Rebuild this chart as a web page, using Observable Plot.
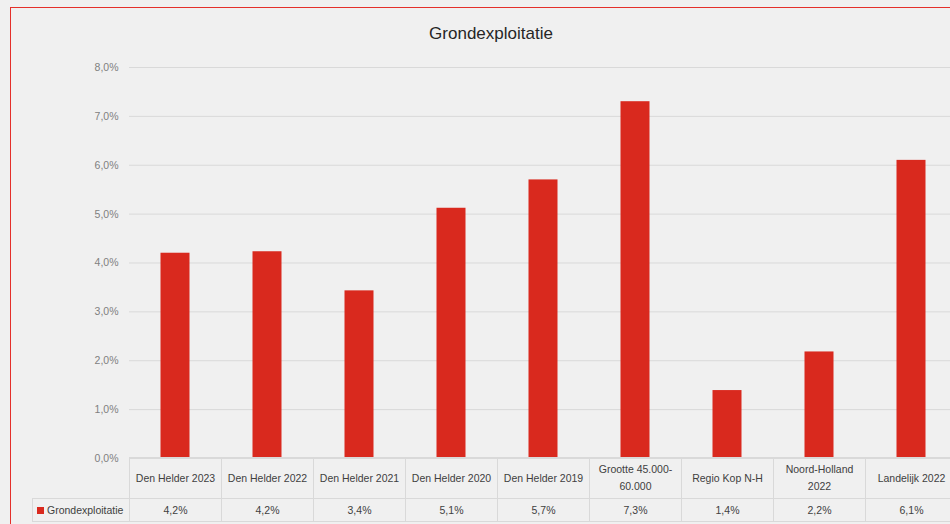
<!DOCTYPE html>
<html>
<head>
<meta charset="utf-8">
<script src="https://cdn.jsdelivr.net/npm/d3@7"></script>
<script src="https://cdn.jsdelivr.net/npm/@observablehq/plot@0.6"></script>
<style>
  html, body { margin: 0; padding: 0; }
  body {
    width: 950px; height: 524px; overflow: hidden; position: relative;
    background: #f0f0f0; font-family: "Liberation Sans", Arial, sans-serif;
  }
  #frame {
    position: absolute; left: 10px; top: 7px; width: 1000px; height: 600px;
    border-left: 1px solid #e4302a; border-top: 1px solid #e4302a; box-sizing: border-box;
  }
  #title {
    position: absolute; left: 0; top: 24px; width: 982px; text-align: center;
    font-size: 17px; color: #262626; line-height: 20px;
  }
  #chart { position: absolute; left: 0; top: 0; }
  #table {
    position: absolute; top: 457px; border-collapse: collapse; table-layout: fixed;
    font-size: 10.5px; color: #404040;
  }
  #table td {
    border: 1px solid #d9d9d9; text-align: center; vertical-align: middle;
    padding: 0 3px; box-sizing: border-box; line-height: 17px;
  }
  #table tr.head td { height: 41px; }
  #table tr.vals td { height: 23px; }
  #table td.corner { border-top: none; border-left: none; }
  #table td.legend { text-align: left; padding-left: 4px; white-space: nowrap; }
  .key { display: inline-block; width: 7px; height: 7px; margin-right: 3px; }
</style>
</head>
<body>
<div id="frame"></div>
<div id="title"></div>
<div id="chart"></div>
<table id="table"></table>
<script>
// ---- data ----
const title = "Grondexploitatie";
const seriesName = "Grondexploitatie";
const categories = [
  "Den Helder 2023", "Den Helder 2022", "Den Helder 2021", "Den Helder 2020",
  "Den Helder 2019", "Grootte 45.000-60.000", "Regio Kop N-H", "Noord-Holland 2022", "Landelijk 2022"
];
const values = [0.0420, 0.0423, 0.0343, 0.0512, 0.0570, 0.0730, 0.0139, 0.0218, 0.0610];
const yTicks = [0, 0.01, 0.02, 0.03, 0.04, 0.05, 0.06, 0.07, 0.08];
const barColor = "#d9291e";

const fmt = v => (v * 100).toFixed(1).replace(".", ",") + "%";
const data = categories.map((c, i) => ({category: c, value: values[i]}));

document.getElementById("title").textContent = title;

const chart = Plot.plot({
  width: 950,
  height: 524,
  marginTop: 67,
  marginBottom: 66,
  marginLeft: 129,
  marginRight: 0,
  style: {background: "transparent", color: "#808080", fontFamily: "Liberation Sans, Arial, sans-serif", fontSize: "10.5px"},
  x: {domain: categories, range: [129, 957], padding: 0, axis: null, label: null},
  y: {domain: [0, 0.08], axis: null, label: null},
  marks: [
    Plot.gridY(yTicks, {stroke: "#d9d9d9", strokeOpacity: 1, strokeWidth: 1}),
    Plot.axisY(yTicks, {tickFormat: fmt, tickSize: 0, tickPadding: 11, fontSize: 10.5, label: null}),
    Plot.barY(data, {x: "category", y: "value", fill: barColor, insetLeft: 31.5, insetRight: 31.5})
  ]
});
document.getElementById("chart").appendChild(chart);

// ---- data table below the plot, aligned on the x band scale ----
const xs = chart.scale("x");
const bw = xs.bandwidth;
const tableLeft = 32;
const firstW = xs.range[0] - tableLeft;
const table = document.getElementById("table");
table.style.left = tableLeft + "px";
table.style.width = (firstW + bw * categories.length) + "px";

const colgroup = document.createElement("colgroup");
[firstW, ...categories.map(() => bw)].forEach(w => {
  const col = document.createElement("col");
  col.style.width = w + "px";
  colgroup.appendChild(col);
});
table.appendChild(colgroup);

const head = document.createElement("tr");
head.className = "head";
const corner = document.createElement("td");
corner.className = "corner";
head.appendChild(corner);
categories.forEach(c => {
  const td = document.createElement("td");
  td.textContent = c;
  head.appendChild(td);
});
table.appendChild(head);

const row = document.createElement("tr");
row.className = "vals";
const leg = document.createElement("td");
leg.className = "legend";
const key = document.createElement("span");
key.className = "key";
key.style.background = barColor;
leg.appendChild(key);
leg.appendChild(document.createTextNode(seriesName));
row.appendChild(leg);
values.forEach(v => {
  const td = document.createElement("td");
  td.textContent = fmt(v);
  row.appendChild(td);
});
table.appendChild(row);
</script>
</body>
</html>
